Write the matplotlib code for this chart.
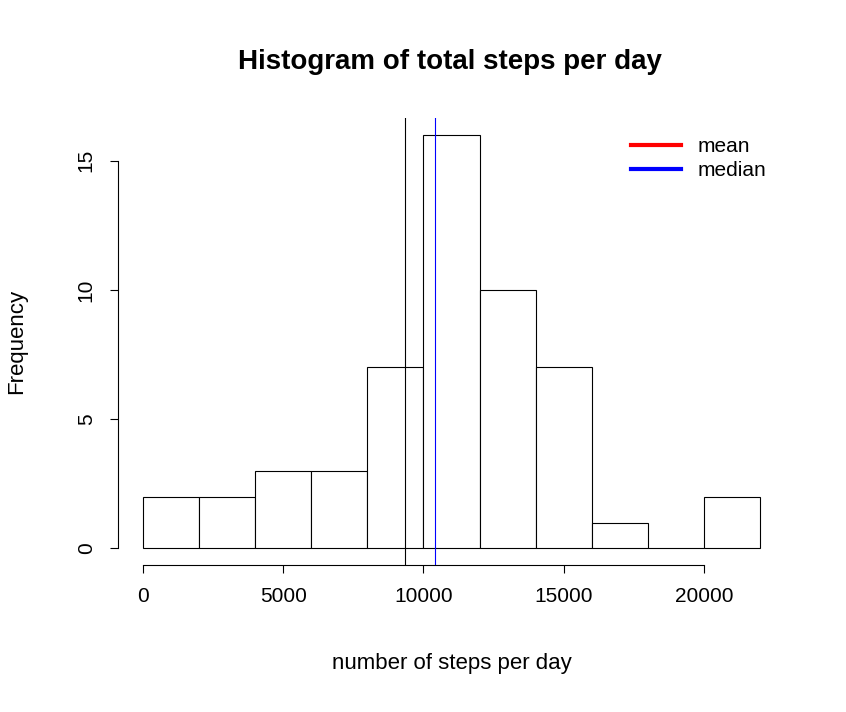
import matplotlib
matplotlib.use("Agg")
import matplotlib.pyplot as plt
from matplotlib.lines import Line2D

plt.rcParams['font.family'] = ['Liberation Sans', 'DejaVu Sans']

# histogram data
bin_edges = [0, 2000, 4000, 6000, 8000, 10000, 12000, 14000, 16000, 18000, 20000, 22000]
counts = [2, 2, 3, 3, 7, 16, 10, 7, 1, 0, 2]
mean_steps = 9354.23
median_steps = 10395

fig = plt.figure(figsize=(8.46, 7.12), dpi=100)
ax = fig.add_axes([0.1395, 0.2065, 0.7885, 0.6275])

lefts = bin_edges[:-1]
widths = [b - a for a, b in zip(bin_edges[:-1], bin_edges[1:])]
ax.bar(lefts, counts, width=widths, align='edge', facecolor='white', edgecolor='black', linewidth=0.8)

ax.axvline(mean_steps, color='black', linewidth=0.8)
ax.axvline(median_steps, color='blue', linewidth=0.8)

ax.set_xlim(-880, 22880)
ax.set_ylim(-0.64, 16.64)

for s in ['top', 'right']:
    ax.spines[s].set_visible(False)
ax.spines['bottom'].set_bounds(0, 20000)
ax.spines['left'].set_bounds(0, 15)
ax.set_xticks([0, 5000, 10000, 15000, 20000])
ax.set_yticks([0, 5, 10, 15])
ax.tick_params(axis='both', length=6, labelsize=15, pad=10)
plt.setp(ax.get_yticklabels(), rotation=90, va='center')

ax.set_xlabel('number of steps per day', fontsize=16, labelpad=34)
ax.set_ylabel('Frequency', fontsize=16, labelpad=36)
fig.text(0.532, 0.913, 'Histogram of total steps per day', ha='center', va='center',
         fontsize=20, fontweight='bold')

handles = [Line2D([], [], color='red', lw=3), Line2D([], [], color='blue', lw=3)]
ax.legend(handles, ['mean', 'median'], loc='upper right', frameon=False, fontsize=15,
          bbox_to_anchor=(1.0, 1.0), handlelength=2.4, labelspacing=0.25)

fig.savefig('out.png', dpi=100, facecolor='white')
